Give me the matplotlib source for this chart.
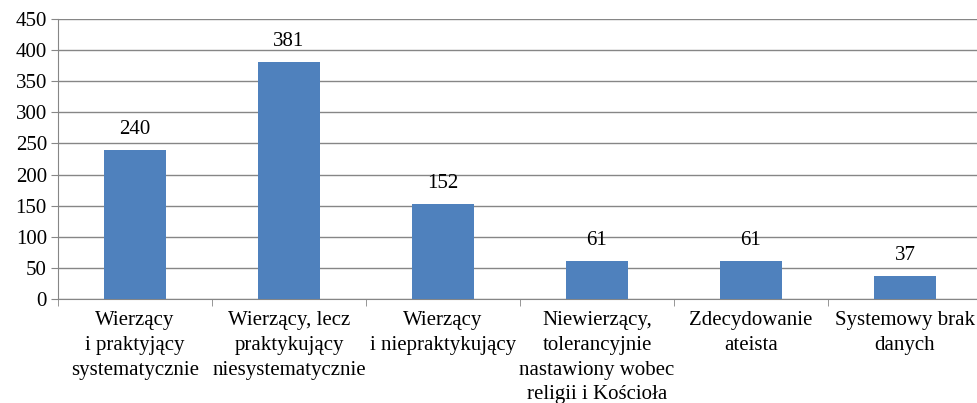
import matplotlib.pyplot as plt
from matplotlib.ticker import FixedLocator

FONT = "Liberation Serif"
FS = 15

kategorie = ["Wierzący\ni praktyjący\nsystematycznie",
             "Wierzący, lecz\npraktykujący\nniesystematycznie",
             "Wierzący\ni niepraktykujący",
             "Niewierzący,\ntolerancyjnie\nnastawiony wobec\nreligii i Kościoła",
             "Zdecydowanie\nateista",
             "Systemowy brak\ndanych"]
wartosci = [240, 381, 152, 61, 61, 37]
y_ticks = list(range(0, 451, 50))

fig = plt.figure(figsize=(9.77, 4.03), dpi=100)
ax = fig.add_axes([58 / 977, 104 / 403, 924 / 977, 280 / 403])

x = range(len(wartosci))
bars = ax.bar(x, wartosci, width=0.4, color="#4F81BD", zorder=3)
for b, v in zip(bars, wartosci):
    ax.annotate(str(v), (b.get_x() + b.get_width() / 2, v), xytext=(0, 8),
                textcoords="offset points", ha="center", va="bottom",
                fontfamily=FONT, fontsize=FS)

ax.set_xlim(-0.5, len(wartosci) - 0.5)
ax.set_ylim(0, 450)
ax.set_yticks(y_ticks)
ax.set_yticklabels([str(t) for t in y_ticks], fontfamily=FONT, fontsize=FS)
ax.yaxis.grid(True, color="#868686", linewidth=1, zorder=0)

ax.set_xticks(list(x))
ax.set_xticklabels(kategorie, linespacing=1.4, fontfamily=FONT, fontsize=FS)
ax.xaxis.set_minor_locator(FixedLocator([i - 0.5 for i in range(len(wartosci) + 1)]))
ax.tick_params(axis="x", which="major", length=0, pad=9)
ax.tick_params(axis="x", which="minor", length=5, color="#868686")
ax.tick_params(axis="y", length=5, color="#868686", pad=3)

for s in ["top", "right"]:
    ax.spines[s].set_visible(False)
for s in ["left", "bottom"]:
    ax.spines[s].set_color("#868686")

plt.savefig("out.png", dpi=100)
